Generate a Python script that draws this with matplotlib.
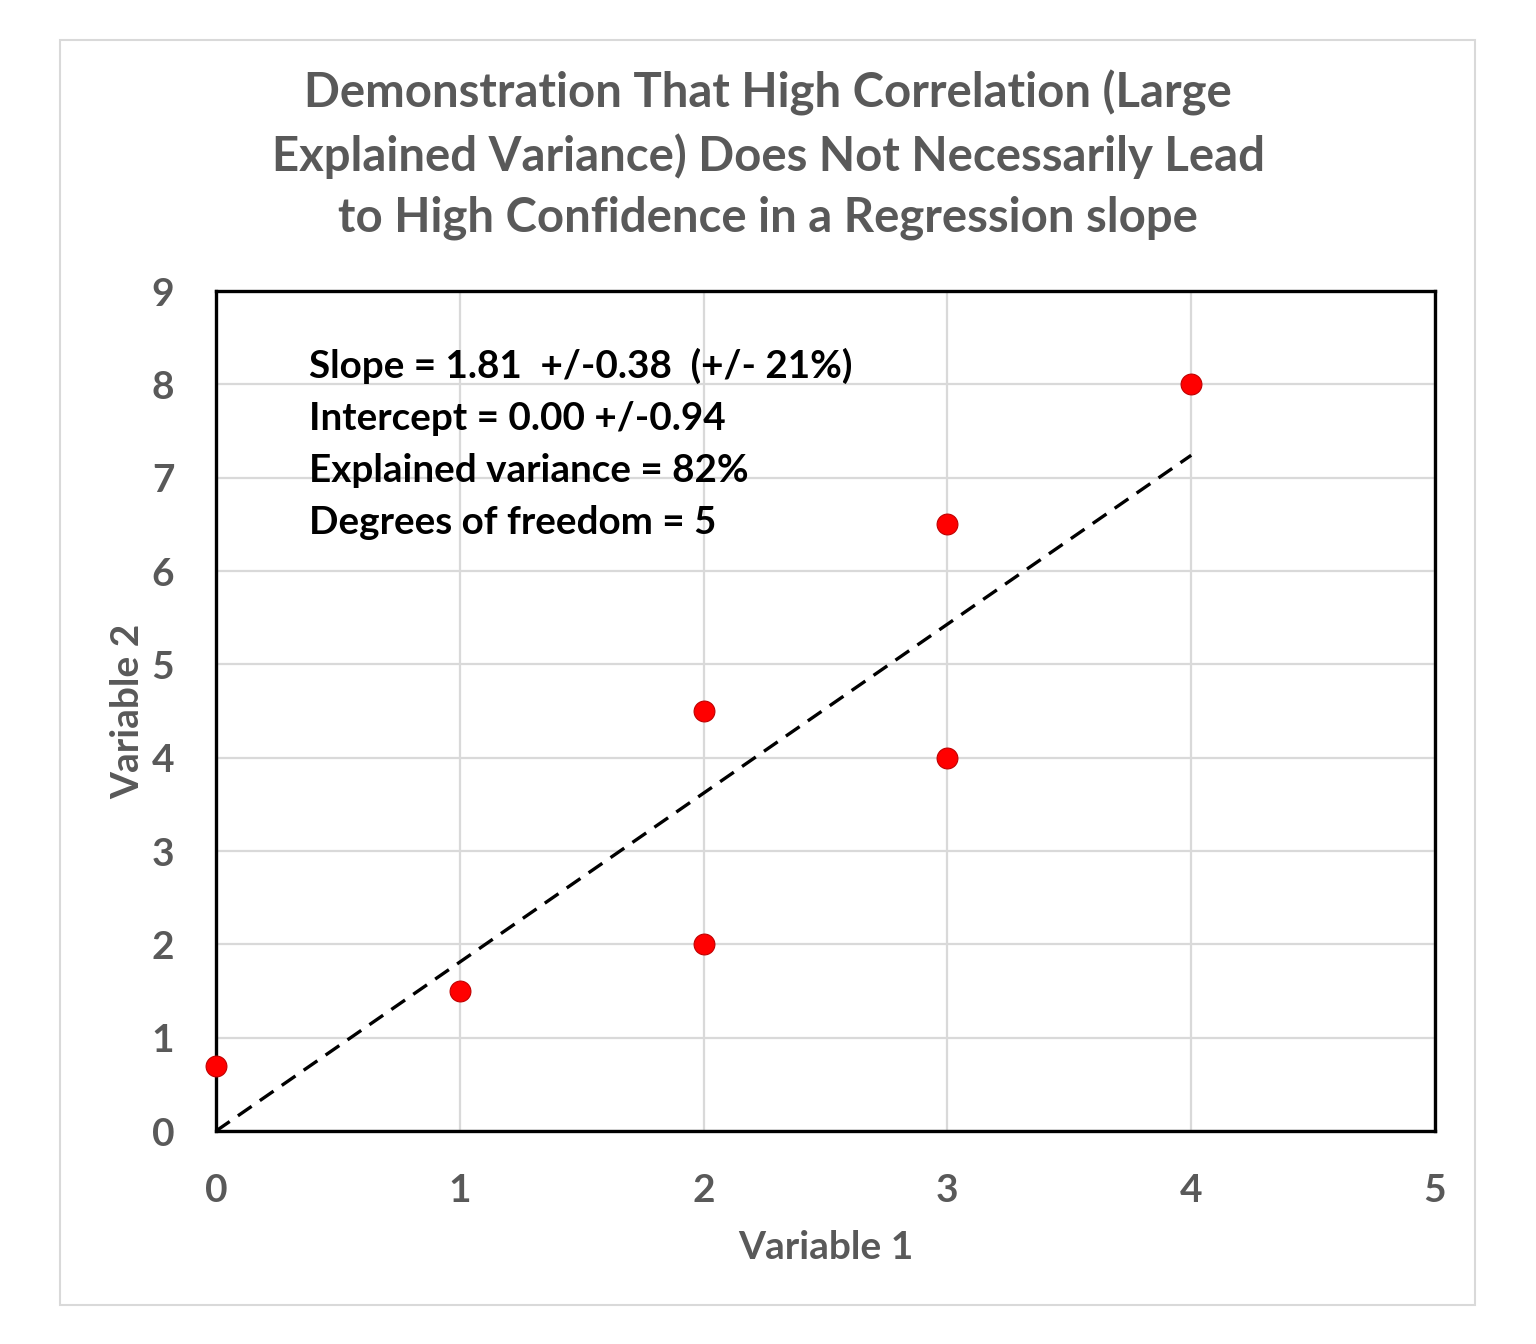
import matplotlib
matplotlib.use("Agg")
import matplotlib.pyplot as plt
from matplotlib.patches import Rectangle
from matplotlib import font_manager

x_vals = [0, 1, 2, 2, 3, 3, 4]
y_vals = [0.7, 1.5, 2.0, 4.5, 4.0, 6.5, 8.0]
slope = 1.81
intercept = 0.0
fit_x = [0, 4]
x_ticks = [0, 1, 2, 3, 4, 5]
y_ticks = [0, 1, 2, 3, 4, 5, 6, 7, 8, 9]
title = ("Demonstration That High Correlation (Large\n"
         "Explained Variance) Does Not Necessarily Lead\n"
         "to High Confidence in a Regression slope")
stats_lines = ["Slope = 1.81  +/-0.38  (+/- 21%)",
               "Intercept = 0.00 +/-0.94",
               "Explained variance = 82%",
               "Degrees of freedom = 5"]

avail = {f.name for f in font_manager.fontManager.ttflist}
fam = [f for f in ["Liberation Sans Narrow", "Lato", "DejaVu Sans"] if f in avail]
plt.rcParams['font.family'] = fam

W, H = 1536, 1344
fig = plt.figure(figsize=(W / 100, H / 100), dpi=100)
fig.patches.append(Rectangle((60 / W, 1 - 1305 / H), (1475 - 60) / W, (1305 - 40) / H,
                             transform=fig.transFigure, fill=False,
                             edgecolor="#d9d9d9", linewidth=1.5))

ax = fig.add_axes([216 / W, 1 - 1131 / H, (1435 - 216) / W, (1131 - 291) / H])
ax.set_xlim(0, 5)
ax.set_ylim(0, 9)
ax.set_xticks(x_ticks)
ax.set_yticks(y_ticks)
ax.grid(True, color="#d9d9d9", linewidth=1.6)
ax.set_axisbelow(True)
for s in ax.spines.values():
    s.set_linewidth(2.4)
    s.set_color("black")
ax.tick_params(length=0, labelsize=28, labelcolor="#595959")
ax.tick_params(axis='x', pad=30)
ax.tick_params(axis='y', pad=30)
for lab in ax.get_xticklabels() + ax.get_yticklabels():
    lab.set_fontweight('bold')

gray = "#595959"
fit_y = [slope * v + intercept for v in fit_x]
ax.plot(fit_x, fit_y, linestyle=(0, (5, 3)), color="black", linewidth=2.4, zorder=3)
ax.plot(x_vals, y_vals, 'o', markersize=15, color="#ff0000", markeredgecolor="#c00000",
        markeredgewidth=0.8, zorder=4, clip_on=False)

ax.set_xlabel("Variable 1", fontsize=28, fontweight='bold', color=gray, labelpad=16)
ax.set_ylabel("Variable 2", fontsize=28, fontweight='bold', color=gray, labelpad=5)

fig.text(768 / W, 1 - 155 / H, title, ha='center', va='center', fontsize=34,
         fontweight='bold', color=gray, linespacing=1.45)

for i, line in enumerate(stats_lines):
    fig.text(309 / W, 1 - (366 + 52 * i) / H, line, ha='left', va='center',
             fontsize=27.8, fontweight='bold', color='black')

fig.savefig("out.png", dpi=100, facecolor="white")
